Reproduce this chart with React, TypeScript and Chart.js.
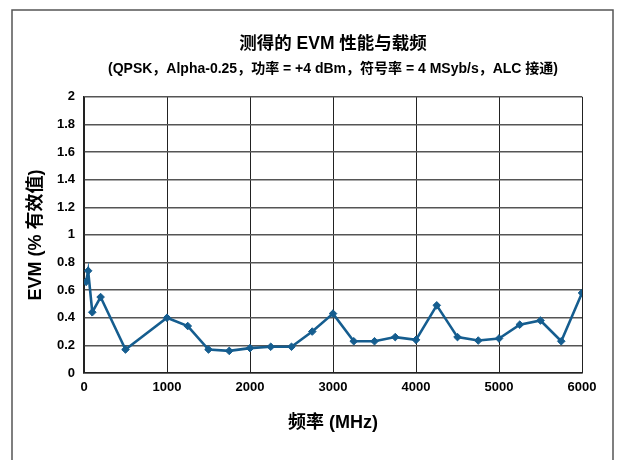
import React, { useEffect, useRef } from "react";
import { Chart, registerables } from "chart.js";

Chart.register(...registerables);

const frequencies = [25, 50, 100, 200, 500, 1000, 1250, 1500, 1750, 2000, 2250, 2500, 2750, 3000, 3250, 3500, 3750, 4000, 4250, 4500, 4750, 5000, 5250, 5500, 5750, 6000];
const evmValues = [0.66, 0.74, 0.44, 0.55, 0.17, 0.40, 0.34, 0.17, 0.16, 0.18, 0.19, 0.19, 0.30, 0.43, 0.23, 0.23, 0.26, 0.24, 0.49, 0.26, 0.235, 0.25, 0.35, 0.38, 0.23, 0.58];
const xTickLabels = ["0", "1000", "2000", "3000", "4000", "5000", "6000"];
const yTickLabels = ["0", "0.2", "0.4", "0.6", "0.8", "1", "1.2", "1.4", "1.6", "1.8", "2"];
const titleText = "测得的 EVM 性能与载频";
const subtitleText = "(QPSK，Alpha-0.25，功率 = +4 dBm，符号率 = 4 MSyb/s，ALC 接通)";
const xAxisTitle = "频率 (MHz)";
const yAxisTitle = "EVM (% 有效值)";

const FONT = "'Liberation Sans', 'Noto Sans CJK SC', Arial, sans-serif";
const LINE_COLOR = "#155d8f";

const framePlugin = {
  id: "frame",
  beforeDraw(chart: any) {
    const ctx = chart.ctx;
    ctx.save();
    ctx.fillStyle = "#ffffff";
    ctx.fillRect(0, 0, chart.width, chart.height);
    ctx.strokeStyle = "#555555";
    ctx.lineWidth = 1.5;
    ctx.strokeRect(12, 10, 601, 470);
    ctx.restore();
  },
};

export default function App() {
  const canvasRef = useRef<HTMLCanvasElement | null>(null);

  useEffect(() => {
    if (!canvasRef.current) return;
    const chart = new Chart(canvasRef.current, {
      type: "line",
      data: {
        datasets: [
          {
            data: frequencies.map((f, i) => ({ x: f, y: evmValues[i] })),
            borderColor: LINE_COLOR,
            backgroundColor: LINE_COLOR,
            borderWidth: 2.6,
            pointStyle: "rectRot",
            pointRadius: 3.8,
            pointBorderWidth: 1,
            pointBackgroundColor: LINE_COLOR,
            pointBorderColor: LINE_COLOR,
            tension: 0,
          },
        ],
      },
      options: {
        responsive: false,
        animation: false,
        devicePixelRatio: 1,
        layout: { padding: { left: 42, right: 36, top: 34, bottom: 0 } },
        plugins: {
          legend: { display: false },
          tooltip: { enabled: false },
          title: {
            display: true,
            fullSize: false,
            text: titleText,
            color: "#000",
            font: { family: FONT, size: 17.5, weight: "bold" },
            padding: { top: 0, bottom: 6 },
          },
          subtitle: {
            display: true,
            fullSize: false,
            text: subtitleText,
            color: "#000",
            font: { family: FONT, size: 14, weight: "bold" },
            padding: { top: 0, bottom: 19 },
          },
        },
        scales: {
          x: {
            type: "linear",
            min: 0,
            max: 6000,
            afterFit(scale: any) {
              scale.height = 87;
            },
            ticks: {
              stepSize: 1000,
              color: "#000",
              padding: 7,
              maxRotation: 0,
              font: { family: FONT, size: 13, weight: "bold" },
              callback: (_v: any, i: number) => xTickLabels[i],
            },
            grid: { color: "#222", lineWidth: 1, drawTicks: false },
            border: { color: "#222", width: 1.5 },
            title: {
              display: true,
              text: xAxisTitle,
              color: "#000",
              font: { family: FONT, size: 18, weight: "bold" },
              padding: { top: 0, bottom: 26 },
            },
          },
          y: {
            type: "linear",
            min: 0,
            max: 2,
            afterFit(scale: any) {
              scale.width = 42;
            },
            ticks: {
              stepSize: 0.2,
              color: "#000",
              padding: 9,
              font: { family: FONT, size: 13, weight: "bold" },
              callback: (_v: any, i: number) => yTickLabels[i],
            },
            grid: { color: "#555", lineWidth: 1.5, drawTicks: false },
            border: { color: "#222", width: 1.5 },
            title: {
              display: true,
              text: yAxisTitle,
              color: "#000",
              font: { family: FONT, size: 18, weight: "bold" },
              padding: { top: -17, bottom: 0 },
            },
          },
        },
      },
      plugins: [framePlugin],
    } as any);
    return () => chart.destroy();
  }, []);

  return (
    <div style={{ position: "absolute", left: 0, top: 0, width: 618, height: 460 }}>
      <canvas ref={canvasRef} width={618} height={460} />
    </div>
  );
}
